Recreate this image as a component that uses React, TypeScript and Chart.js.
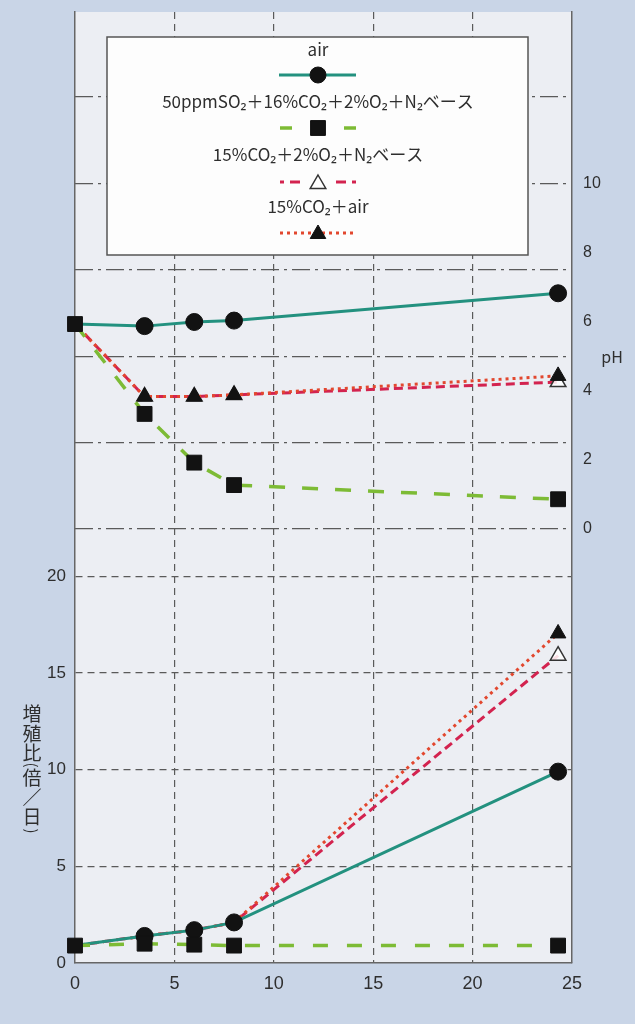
import React, { useEffect, useRef } from 'react';
import { Chart, registerables } from 'chart.js';

Chart.register(...registerables);

// ---- data ----
const days = [0, 3.5, 6, 8, 24.3];
const seriesLabels = [
  'air',
  '50ppmSO₂＋16%CO₂＋2%O₂＋N₂ベース',
  '15%CO₂＋2%O₂＋N₂ベース',
  '15%CO₂＋air',
];
const airPH = [5.93, 5.87, 5.99, 6.03, 6.82];
const so2PH = [5.93, 3.33, 1.92, 1.27, 0.86];
const co2n2PH = [5.93, 3.83, 3.83, 3.88, 4.25];
const co2airPH = [5.93, 3.83, 3.83, 3.88, 4.43];
const airGrowth = [0.9, 1.4, 1.7, 2.1, 9.9];
const so2Growth = [0.9, 1.0, 0.95, 0.9, 0.9];
const co2n2Growth = [0.9, 1.4, 1.7, 2.1, 15.9];
const co2airGrowth = [0.9, 1.4, 1.7, 2.1, 17.05];
const xTicks = [0, 5, 10, 15, 20, 25];
const growthTicks = [0, 5, 10, 15, 20];
const phLabelTicks = [0, 2, 4, 6, 8, 10];
const phGridTicks = [0, 2.5, 5, 7.5, 10, 12.5];
const yTitleChars = ['増', '殖', '比', '(', '倍', '／', '日', ')'];
const phTitle = 'pH';

// ---- styles ----
const PAGE_BG = '#c9d5e7';
const PLOT_BG = '#eceef3';
const TEAL = '#23917f';
const GREEN = '#7dbb35';
const CRIMSON = '#d3234f';
const ORANGE = '#e2472e';
const MARK = '#121212';
const TEXT = '#2e2e2e';
const GRID = '#5a5a5a';
const FONT = '"Noto Sans CJK JP", "Noto Sans", sans-serif';
const NUMFONT = '"Liberation Sans", Arial, sans-serif';

const pts = (ys: number[]) => days.map((d, i) => ({ x: d, y: ys[i] }));

function drawMarker(ctx: CanvasRenderingContext2D, kind: string, x: number, y: number, r: number, fill: string, stroke: string, lw: number) {
  ctx.save();
  ctx.beginPath();
  if (kind === 'circle') {
    ctx.arc(x, y, r, 0, Math.PI * 2);
  } else if (kind === 'rect') {
    const s = r * Math.SQRT1_2;
    ctx.rect(x - s, y - s, 2 * s, 2 * s);
  } else {
    ctx.moveTo(x, y - r);
    ctx.lineTo(x + r * 0.866, y + r * 0.5);
    ctx.lineTo(x - r * 0.866, y + r * 0.5);
    ctx.closePath();
  }
  ctx.fillStyle = fill;
  ctx.fill();
  ctx.lineWidth = lw;
  ctx.strokeStyle = stroke;
  ctx.stroke();
  ctx.restore();
}

const decor = {
  id: 'decor',
  beforeDraw(chart: any) {
    const { ctx, chartArea: a } = chart;
    ctx.save();
    ctx.fillStyle = PAGE_BG;
    ctx.fillRect(0, 0, chart.width, chart.height);
    ctx.fillStyle = PLOT_BG;
    ctx.fillRect(a.left, a.top, a.right - a.left, a.bottom - a.top);
    ctx.restore();
  },
  afterDraw(chart: any) {
    const { ctx } = chart;
    ctx.save();
    // legend box
    const bx = 107, by = 37, bw = 421, bh = 218;
    ctx.fillStyle = '#fdfdfd';
    ctx.fillRect(bx, by, bw, bh);
    ctx.strokeStyle = '#555';
    ctx.lineWidth = 1.5;
    ctx.strokeRect(bx, by, bw, bh);

    const cx = 318;
    ctx.fillStyle = TEXT;
    ctx.textAlign = 'center';
    ctx.textBaseline = 'middle';
    ctx.font = `17px ${FONT}`;
    const textY = [50, 102, 155, 207];
    seriesLabels.forEach((t, i) => ctx.fillText(t, cx, textY[i]));

    const seg = (color: string, w: number, dash: number[], x1: number, x2: number, y: number) => {
      ctx.save();
      ctx.strokeStyle = color;
      ctx.lineWidth = w;
      ctx.setLineDash(dash);
      ctx.beginPath();
      ctx.moveTo(x1, y);
      ctx.lineTo(x2, y);
      ctx.stroke();
      ctx.restore();
    };
    // air
    seg(TEAL, 3, [], 279, 356, 75);
    drawMarker(ctx, 'circle', cx, 75, 8, MARK, MARK, 1);
    // SO2
    seg(GREEN, 3.5, [], 280, 292, 128);
    seg(GREEN, 3.5, [], 344, 356, 128);
    drawMarker(ctx, 'rect', cx, 128, 10.5, MARK, MARK, 1);
    // CO2 + O2 + N2
    seg(CRIMSON, 3, [], 280, 284, 182);
    seg(CRIMSON, 3, [], 290, 300, 182);
    seg(CRIMSON, 3, [], 336, 346, 182);
    seg(CRIMSON, 3, [], 352, 356, 182);
    drawMarker(ctx, 'triangle', cx, 184, 9, 'rgba(255,255,255,0.85)', '#333', 1.5);
    // CO2 + air
    seg(ORANGE, 3, [3, 4], 280, 356, 233);
    drawMarker(ctx, 'triangle', cx, 234, 9, MARK, MARK, 1);

    // vertical left title (upright stacked characters, parentheses turned)
    const ys = [714, 734, 753, 765, 778, 798, 817, 831];
    yTitleChars.forEach((c, i) => {
      if (c === '(' || c === ')') {
        ctx.save();
        ctx.translate(32, ys[i]);
        ctx.rotate(Math.PI / 2);
        ctx.font = `15px ${FONT}`;
        ctx.fillText(c, 0, 0);
        ctx.restore();
      } else {
        ctx.font = `19px ${FONT}`;
        ctx.fillText(c, 32, ys[i]);
      }
    });

    // pH title
    ctx.font = `16px ${FONT}`;
    ctx.fillText(phTitle, 612, 357);
    ctx.restore();
  },
};

export default function App() {
  const ref = useRef<HTMLCanvasElement | null>(null);

  useEffect(() => {
    if (!ref.current) return;
    const common = { tension: 0, clip: false as any, fill: false, pointBorderWidth: 1 };
    const chart = new Chart(ref.current, {
      type: 'line',
      data: {
        datasets: [
          // SO2 series (top)
          {
            ...common, label: seriesLabels[1] + ' pH', data: pts(so2PH), yAxisID: 'yPH',
            borderColor: GREEN, borderWidth: 3.5, borderDash: [16, 17],
            pointStyle: 'rect', pointRadius: 10.5, pointBackgroundColor: MARK, pointBorderColor: MARK, order: 0,
          },
          {
            ...common, label: seriesLabels[1] + ' growth', data: pts(so2Growth), yAxisID: 'y',
            borderColor: GREEN, borderWidth: 3.5, borderDash: [15, 19],
            pointStyle: 'rect', pointRadius: 10.5, pointBackgroundColor: MARK, pointBorderColor: MARK, order: 0,
          },
          // air
          {
            ...common, label: seriesLabels[0] + ' pH', data: pts(airPH), yAxisID: 'yPH',
            borderColor: TEAL, borderWidth: 3,
            pointStyle: 'circle', pointRadius: (c: any) => (c.dataIndex === 0 ? 0 : 8.5),
            pointBackgroundColor: MARK, pointBorderColor: MARK, order: 1,
          },
          {
            ...common, label: seriesLabels[0] + ' growth', data: pts(airGrowth), yAxisID: 'y',
            borderColor: TEAL, borderWidth: 3,
            pointStyle: 'circle', pointRadius: (c: any) => (c.dataIndex === 0 ? 0 : 8.5),
            pointBackgroundColor: MARK, pointBorderColor: MARK, order: 1,
          },
          // CO2 + air
          {
            ...common, label: seriesLabels[3] + ' pH', data: pts(co2airPH), yAxisID: 'yPH',
            borderColor: ORANGE, borderWidth: 3, borderDash: [3, 4],
            pointStyle: 'triangle', pointRadius: (c: any) => (c.dataIndex === 0 ? 0 : 9),
            pointBackgroundColor: MARK, pointBorderColor: MARK, order: 2,
          },
          {
            ...common, label: seriesLabels[3] + ' growth', data: pts(co2airGrowth), yAxisID: 'y',
            borderColor: ORANGE, borderWidth: 3, borderDash: [3, 4],
            pointStyle: 'triangle', pointRadius: (c: any) => (c.dataIndex === 4 ? 9 : 0),
            pointBackgroundColor: MARK, pointBorderColor: MARK, order: 2,
          },
          // CO2 + O2 + N2
          {
            ...common, label: seriesLabels[2] + ' pH', data: pts(co2n2PH), yAxisID: 'yPH',
            borderColor: CRIMSON, borderWidth: 3, borderDash: [9, 5],
            pointStyle: 'triangle', pointRadius: (c: any) => (c.dataIndex === 0 ? 0 : 9),
            pointBackgroundColor: 'rgba(255,255,255,0.85)', pointBorderColor: '#333', pointBorderWidth: 1.5, order: 3,
          },
          {
            ...common, label: seriesLabels[2] + ' growth', data: pts(co2n2Growth), yAxisID: 'y',
            borderColor: CRIMSON, borderWidth: 3, borderDash: [9, 5],
            pointStyle: 'triangle', pointRadius: (c: any) => (c.dataIndex === 4 ? 9 : 0),
            pointBackgroundColor: 'rgba(255,255,255,0.85)', pointBorderColor: '#333', pointBorderWidth: 1.5, order: 3,
          },
        ] as any,
      },
      options: {
        animation: false,
        responsive: false,
        devicePixelRatio: 1,
        layout: { padding: { top: 12, left: 0, right: 0, bottom: 0 } },
        plugins: { legend: { display: false }, tooltip: { enabled: false } },
        scales: {
          x: {
            type: 'linear', min: 0, max: 25,
            afterBuildTicks: (s: any) => { s.ticks = xTicks.map((v) => ({ value: v })); },
            afterFit: (s: any) => { s.height = 61; s.paddingLeft = 0; s.paddingRight = 0; },
            ticks: { color: TEXT, font: { family: NUMFONT, size: 18 }, padding: 10 },
            grid: {
              drawTicks: false,
              color: (c: any) => (c.tick && (c.tick.value === 0 || c.tick.value === 25) ? 'rgba(0,0,0,0)' : GRID),
              lineWidth: 1.2,
            },
            border: { display: true, color: '#666', width: 1.5, dash: [7, 5] },
          },
          y: {
            type: 'linear', position: 'left', min: 0, max: 49.2,
            afterBuildTicks: (s: any) => { s.ticks = growthTicks.map((v) => ({ value: v })); },
            afterFit: (s: any) => { s.width = 75; s.paddingTop = 0; s.paddingBottom = 0; },
            ticks: { color: TEXT, font: { family: NUMFONT, size: 17 }, padding: 9 },
            grid: {
              drawTicks: false,
              color: (c: any) => (c.tick && c.tick.value === 0 ? 'rgba(0,0,0,0)' : GRID),
              lineWidth: 1.2,
            },
            border: { display: true, color: '#666', width: 1.5, dash: [7, 5] },
          },
          yPH: {
            type: 'linear', position: 'right', min: -12.56, max: 14.96,
            afterBuildTicks: (s: any) => {
              const vals = Array.from(new Set([...phLabelTicks, ...phGridTicks])).sort((a, b) => a - b);
              s.ticks = vals.map((v) => ({ value: v }));
            },
            afterFit: (s: any) => { s.width = 63; s.paddingTop = 0; s.paddingBottom = 0; },
            ticks: {
              color: TEXT, font: { family: NUMFONT, size: 16 }, padding: 11,
              callback: (v: any) => (phLabelTicks.includes(Number(v)) ? String(v) : ''),
            },
            grid: {
              drawTicks: false,
              color: (c: any) => (c.tick && phGridTicks.includes(c.tick.value) ? GRID : 'rgba(0,0,0,0)'),
              lineWidth: 1.3,
            },
            border: { display: true, color: '#666', width: 1.5, dash: [18, 5, 3, 5] },
          },
        },
      } as any,
      plugins: [decor],
    });
    return () => chart.destroy();
  }, []);

  return (
    <div style={{ position: 'fixed', left: 0, top: 0, width: 635, height: 1024, background: PAGE_BG }}>
      <canvas ref={ref} width={635} height={1024} style={{ display: 'block', width: 635, height: 1024 }} />
    </div>
  );
}
